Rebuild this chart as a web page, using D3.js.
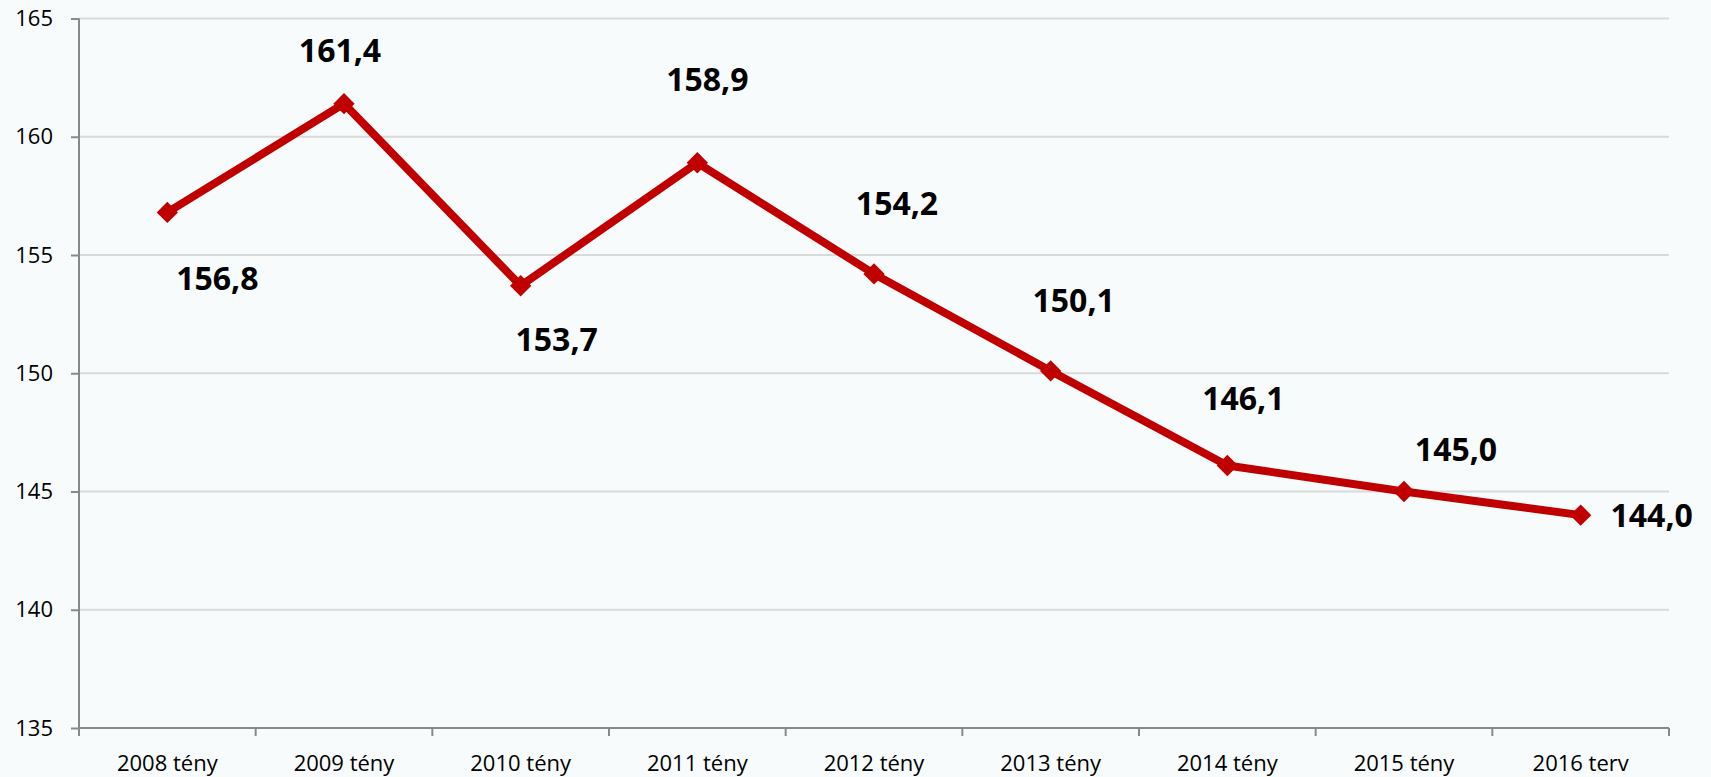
<!DOCTYPE html>
<html>
<head>
<meta charset="utf-8">
<script src="https://cdnjs.cloudflare.com/ajax/libs/d3/7.8.5/d3.min.js"></script>
<style>
  body { margin: 0; background: #f8fbfc; }
  svg { display: block; }
  .axis text { font-family: "Open Sans", sans-serif; font-size: 22px; fill: #000; }
  .label { font-family: "Open Sans", sans-serif; font-size: 32px; font-weight: bold; fill: #000; }
</style>
</head>
<body>
<div class="chart"></div>
<script>
var categories = ["2008 tény", "2009 tény", "2010 tény", "2011 tény", "2012 tény",
  "2013 tény", "2014 tény", "2015 tény", "2016 terv"];
var values = [156.8, 161.4, 153.7, 158.9, 154.2, 150.1, 146.1, 145.0, 144.0];
var yTicks = [135, 140, 145, 150, 155, 160, 165];
// label offsets from the point, hand placed like in the original
var labelDx = [50, -4, 36, 10, 23, 23, 16, 52, 71];
var labelDy = [78, -42, 65, -72, -59, -59, -55, -31, 12];

var svgWidth = 1711;
var svgHeight = 777;

var margin = { top: 18.5, right: 42, bottom: 49, left: 79 };
var width = svgWidth - margin.left - margin.right;
var height = svgHeight - margin.top - margin.bottom;

var svg = d3.select(".chart")
  .append("svg")
  .attr("width", svgWidth)
  .attr("height", svgHeight);

svg.append("rect")
  .attr("width", svgWidth)
  .attr("height", svgHeight)
  .attr("fill", "#f8fbfc");

var chartGroup = svg.append("g")
  .attr("transform", `translate(${margin.left}, ${margin.top})`);

var xScale = d3.scaleBand()
  .domain(categories)
  .range([0, width]);

var yScale = d3.scaleLinear()
  .domain([135, 165])
  .range([height, 0]);

// gridlines
chartGroup.append("g")
  .selectAll("line")
  .data(yTicks.slice(1))
  .enter()
  .append("line")
  .attr("x1", 0)
  .attr("x2", width)
  .attr("y1", d => yScale(d))
  .attr("y2", d => yScale(d))
  .attr("stroke", "#d9d9d9")
  .attr("stroke-width", 2);

// y axis
var leftAxis = d3.axisLeft(yScale)
  .tickValues(yTicks)
  .tickSize(8)
  .tickPadding(18)
  .tickFormat(d3.format("d"));

var yAxis = chartGroup.append("g")
  .attr("class", "axis")
  .call(leftAxis);
yAxis.select(".domain").remove();
yAxis.selectAll("line").attr("stroke", "#888").attr("stroke-width", 2);
chartGroup.append("line")
  .attr("x1", 0).attr("x2", 0)
  .attr("y1", 0).attr("y2", height)
  .attr("stroke", "#888").attr("stroke-width", 2);

// x axis
var bottomAxis = d3.axisBottom(xScale)
  .tickSize(0)
  .tickPadding(27);

var xAxis = chartGroup.append("g")
  .attr("class", "axis")
  .attr("transform", `translate(0, ${height})`)
  .call(bottomAxis);
xAxis.select(".domain").remove();
xAxis.append("line")
  .attr("x1", 0).attr("x2", width)
  .attr("stroke", "#888").attr("stroke-width", 2);

// tick marks between the categories
var bounds = categories.map(c => xScale(c)).concat([width]);
xAxis.selectAll(".sep")
  .data(bounds)
  .enter()
  .append("line")
  .attr("class", "sep")
  .attr("x1", d => d).attr("x2", d => d)
  .attr("y1", 0).attr("y2", 8)
  .attr("stroke", "#888").attr("stroke-width", 2);

var cx = d => xScale(d) + xScale.bandwidth() / 2;

// line
var line = d3.line()
  .x((d, i) => cx(categories[i]))
  .y(d => yScale(d));

chartGroup.append("path")
  .datum(values)
  .attr("d", line)
  .attr("fill", "none")
  .attr("stroke", "#c00000")
  .attr("stroke-width", 8)
  .attr("stroke-linejoin", "round");

// diamond markers
chartGroup.selectAll(".marker")
  .data(values)
  .enter()
  .append("path")
  .attr("class", "marker")
  .attr("d", d3.symbol().type(d3.symbolDiamond2).size(290))
  .attr("transform", (d, i) => `translate(${cx(categories[i])}, ${yScale(d)})`)
  .attr("fill", "#c00000");

// data labels
chartGroup.selectAll(".label")
  .data(values)
  .enter()
  .append("text")
  .attr("class", "label")
  .attr("text-anchor", "middle")
  .attr("x", (d, i) => cx(categories[i]) + labelDx[i])
  .attr("y", (d, i) => yScale(d) + labelDy[i])
  .text(d => d.toFixed(1).replace(".", ","));
</script>
</body>
</html>
